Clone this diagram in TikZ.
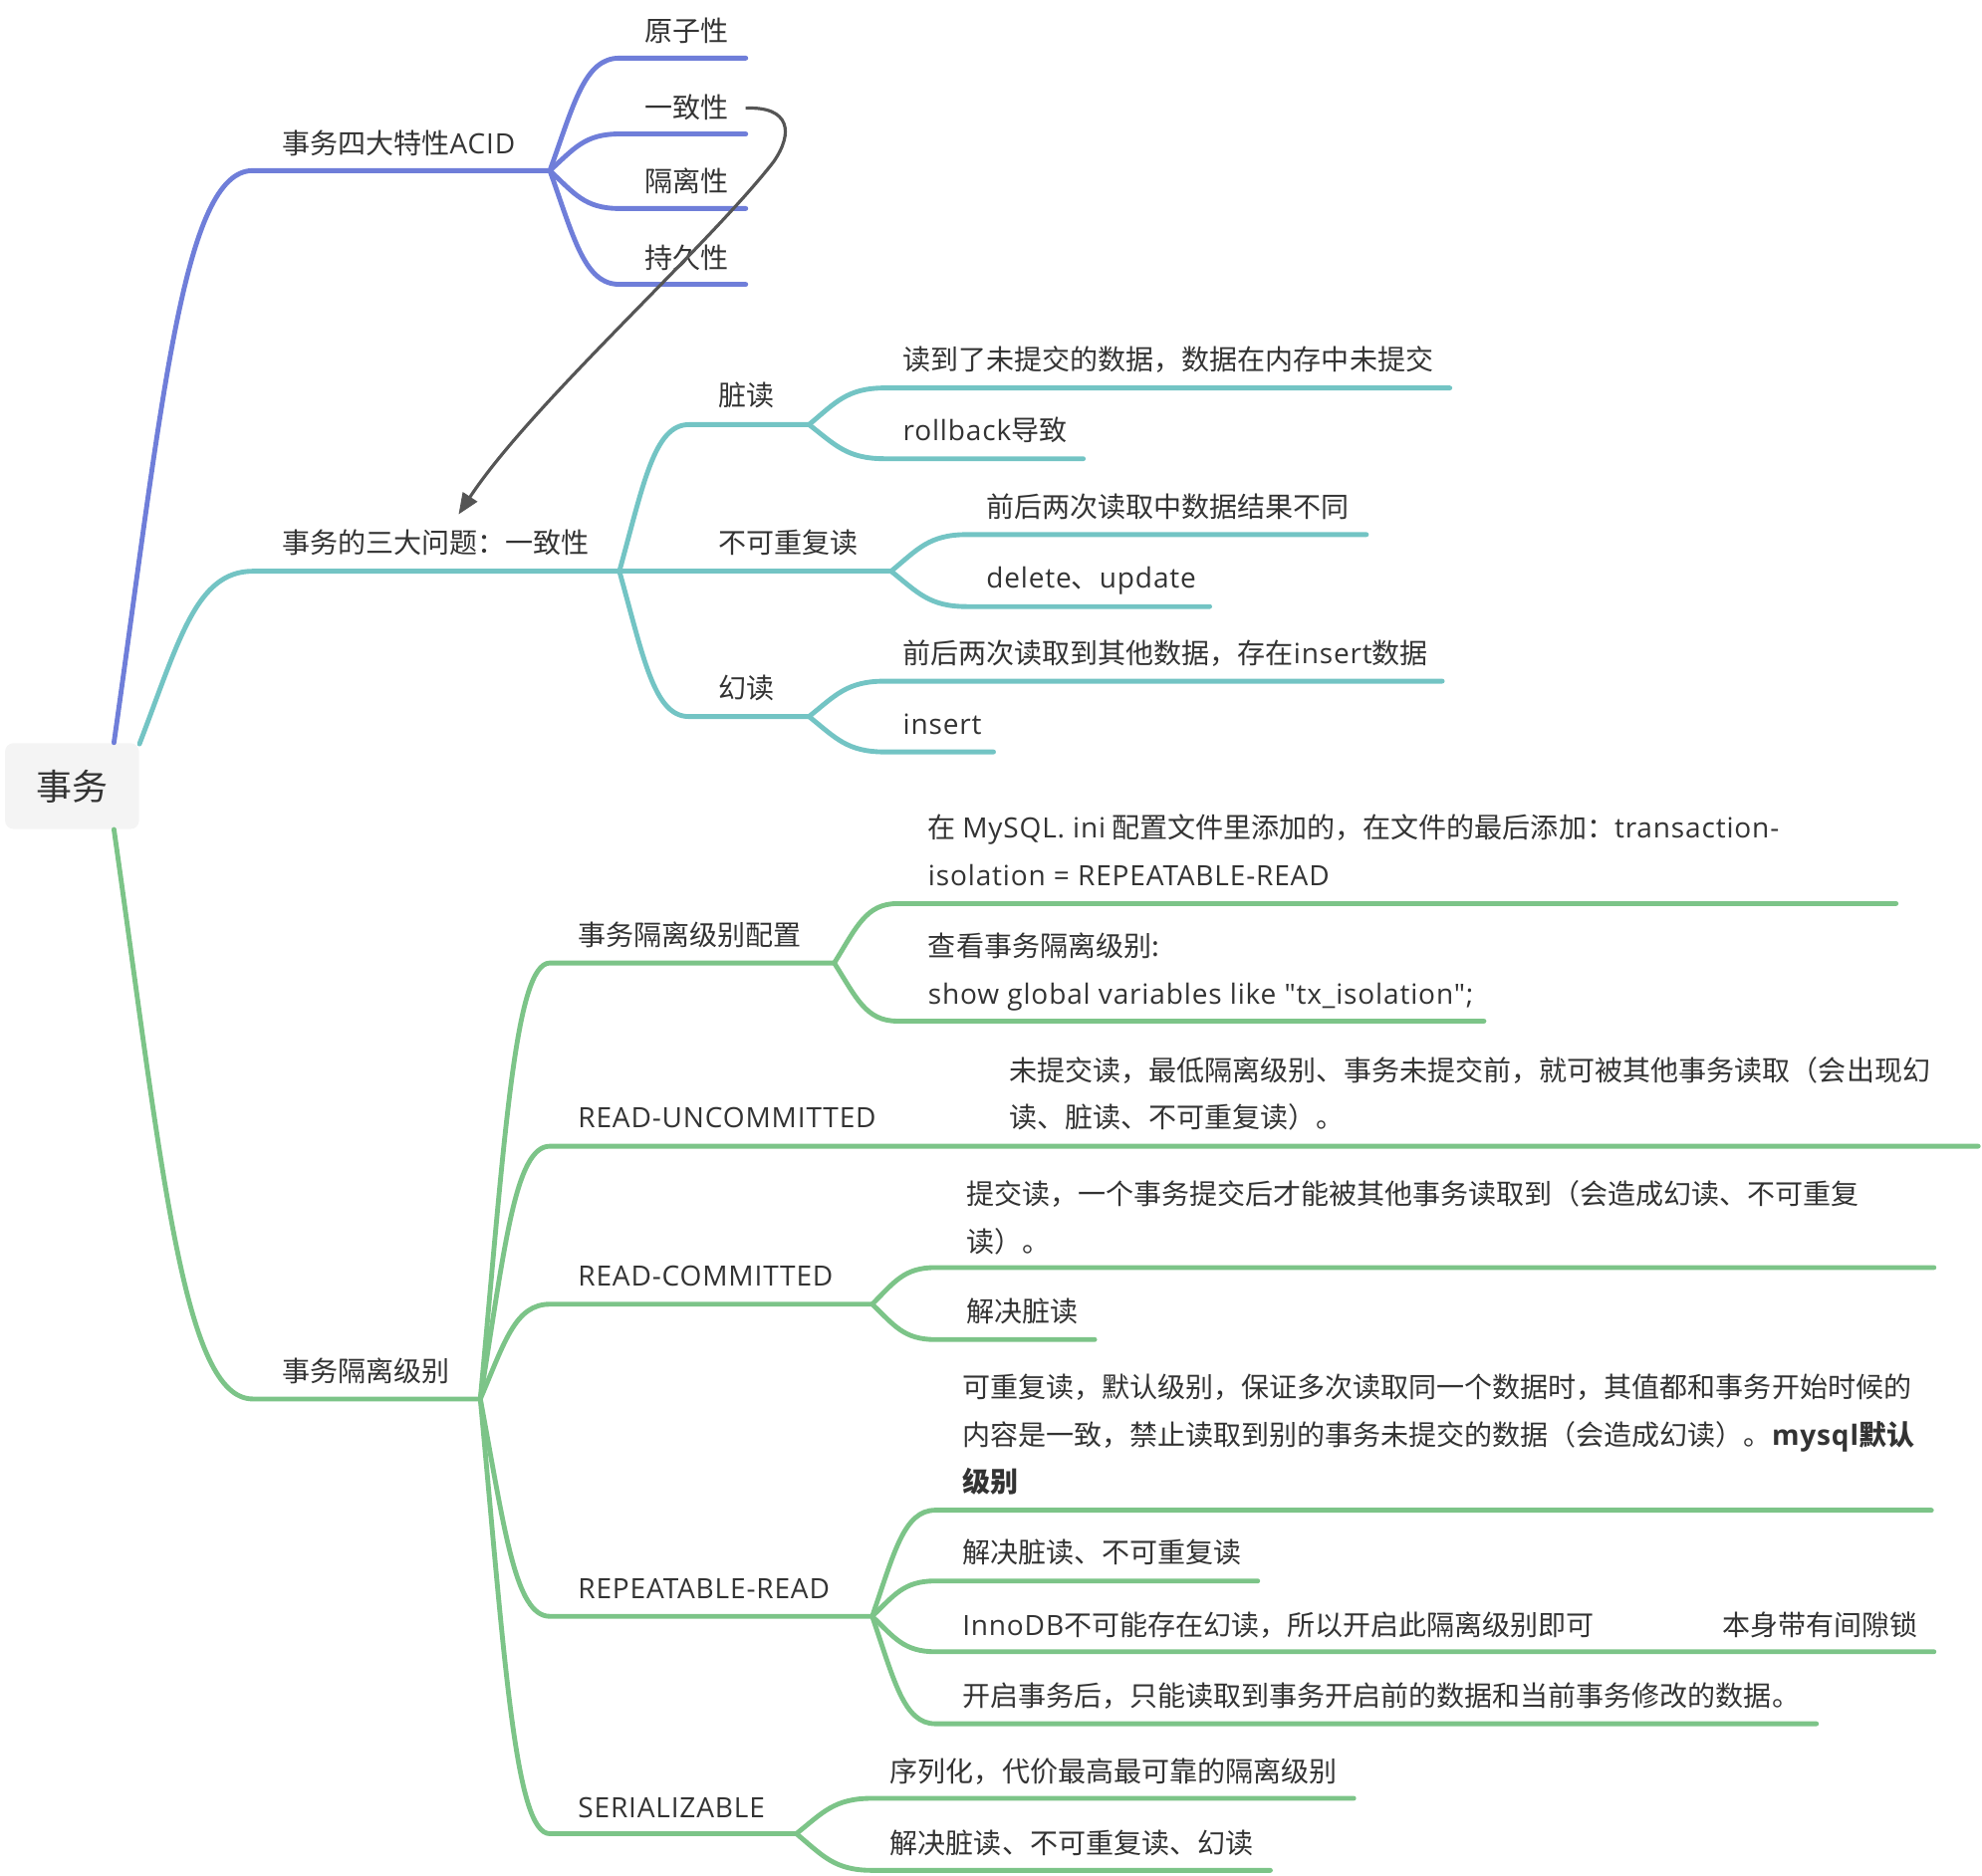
\documentclass[tikz,border=0pt]{standalone}
\usepackage{fontspec}
\setmainfont{Noto Sans CJK SC}
\newfontfamily\latfont[LetterSpace=3]{Open Sans}
\newcommand{\eng}[1]{{\latfont #1}}
\usetikzlibrary{arrows.meta, calc}
\definecolor{acidcolor}{RGB}{111, 126, 217}
\definecolor{probcolor}{RGB}{115, 196, 196}
\definecolor{levelcolor}{RGB}{124, 196, 136}
\definecolor{txtcolor}{RGB}{51, 51, 51}
\definecolor{linkcolor}{RGB}{85, 85, 85}
\definecolor{rootfill}{RGB}{244, 244, 244}

\tikzset{
  ln/.style={line width=2.3pt, line cap=round, line join=round},
  mmcurve/.style={to path={let \p1=(\tikztostart), \p2=(\tikztotarget) in
      .. controls ({\x1+0.35*(\x2-\x1)},{\y1+0.6*(\y2-\y1)}) and ({\x2-0.5*(\x2-\x1)},\y2) .. (\tikztotarget)}},
  lbl/.style={anchor=base west, inner sep=0pt, text=txtcolor, align=left,
      font=\fontsize{13.25}{22.5}\selectfont},
  rootbox/.style={fill=rootfill, rounded corners=4pt, minimum width=63.6pt,
      minimum height=40.8pt, text=txtcolor, font=\fontsize{17}{20}\selectfont}
}

\begin{document}
\begin{tikzpicture}[x=0.6pt, y=-0.6pt]
  \useasboundingbox (0,0) rectangle (1568,1484);
  \node[rootbox] (root) at (57,622) {事务};

  % ACID
  \coordinate (acidL) at (200,135);
  \coordinate (acidF) at (435,135);
  \draw[ln, acidcolor] (root.46) to[mmcurve] (acidL) -- (acidF);
  \node[lbl] (acid) at (223,122) {事务四大特性\eng{ACID}};
  \coordinate (atomL) at (490,46);  \coordinate (atomE) at (590,46);
  \coordinate (consL) at (490,106); \coordinate (consE) at (590,106);
  \coordinate (isolL) at (490,165); \coordinate (isolE) at (590,165);
  \coordinate (duraL) at (490,225); \coordinate (duraE) at (590,225);
  \draw[ln, acidcolor] (acidF) to[mmcurve] (atomL) -- (atomE);
  \draw[ln, acidcolor] (acidF) to[mmcurve] (consL) -- (consE);
  \draw[ln, acidcolor] (acidF) to[mmcurve] (isolL) -- (isolE);
  \draw[ln, acidcolor] (acidF) to[mmcurve] (duraL) -- (duraE);
  \node[lbl] (atom) at (510,33) {原子性};
  \node[lbl] (cons) at (510,93) {一致性};
  \node[lbl] (isol) at (510,152) {隔离性};
  \node[lbl] (dura) at (510,212) {持久性};

  % problems
  \coordinate (probL) at (200,452);
  \coordinate (probF) at (490,452);
  \draw[ln, probcolor] (root.32) to[mmcurve] (probL) -- (probF);
  \node[lbl] (prob) at (223,438) {事务的三大问题：一致性};
  \coordinate (dirtyL) at (545,336); \coordinate (dirtyF) at (640,336);
  \coordinate (nrptF) at (705,452);
  \coordinate (phanL) at (545,567);  \coordinate (phanF) at (640,567);
  \draw[ln, probcolor] (probF) to[mmcurve] (dirtyL) -- (dirtyF);
  \draw[ln, probcolor] (probF) -- (nrptF);
  \draw[ln, probcolor] (probF) to[mmcurve] (phanL) -- (phanF);
  \node[lbl] (dirty) at (568,321) {脏读};
  \node[lbl] (nrpt) at (568,438) {不可重复读};
  \node[lbl] (phan) at (568,553) {幻读};

  \coordinate (dirtyAL) at (700,307); \coordinate (dirtyAE) at (1147,307);
  \coordinate (dirtyBL) at (700,363); \coordinate (dirtyBE) at (857,363);
  \draw[ln, probcolor] (dirtyF) to[mmcurve] (dirtyAL) -- (dirtyAE);
  \draw[ln, probcolor] (dirtyF) to[mmcurve] (dirtyBL) -- (dirtyBE);
  \node[lbl] (dirtyA) at (714,293) {读到了未提交的数据，数据在内存中未提交};
  \node[lbl] (dirtyB) at (714,349) {\eng{rollback}导致};

  \coordinate (nrptAL) at (765,423); \coordinate (nrptAE) at (1081,423);
  \coordinate (nrptBL) at (765,480); \coordinate (nrptBE) at (957,480);
  \draw[ln, probcolor] (nrptF) to[mmcurve] (nrptAL) -- (nrptAE);
  \draw[ln, probcolor] (nrptF) to[mmcurve] (nrptBL) -- (nrptBE);
  \node[lbl] (nrptA) at (780,409) {前后两次读取中数据结果不同};
  \node[lbl] (nrptB) at (780,465) {\eng{delete}、\eng{update}};

  \coordinate (phanAL) at (700,539); \coordinate (phanAE) at (1141,539);
  \coordinate (phanBL) at (700,595); \coordinate (phanBE) at (786,595);
  \draw[ln, probcolor] (phanF) to[mmcurve] (phanAL) -- (phanAE);
  \draw[ln, probcolor] (phanF) to[mmcurve] (phanBL) -- (phanBE);
  \node[lbl] (phanA) at (714,525) {前后两次读取到其他数据，存在\eng{insert}数据};
  \node[lbl] (phanB) at (714,581) {\eng{insert}};

  % isolation levels
  \coordinate (lvlL) at (200,1107);
  \coordinate (lvlF) at (380,1107);
  \draw[ln, levelcolor] (root.-46) to[mmcurve] (lvlL) -- (lvlF);
  \node[lbl] (lvl) at (223,1093) {事务隔离级别};
  \coordinate (cfgL) at (435,762);  \coordinate (cfgF) at (660,762);
  \coordinate (ruL) at (435,907);   \coordinate (ruF) at (760,907); \coordinate (ruE) at (1565,907);
  \coordinate (rcL) at (435,1032);  \coordinate (rcF) at (690,1032);
  \coordinate (rrL) at (435,1279);  \coordinate (rrF) at (690,1279);
  \coordinate (serL) at (435,1451); \coordinate (serF) at (630,1451);
  \draw[ln, levelcolor] (lvlF) to[mmcurve] (cfgL) -- (cfgF);
  \draw[ln, levelcolor] (lvlF) to[mmcurve] (ruL) -- (ruF) -- (ruE);
  \draw[ln, levelcolor] (lvlF) to[mmcurve] (rcL) -- (rcF);
  \draw[ln, levelcolor] (lvlF) to[mmcurve] (rrL) -- (rrF);
  \draw[ln, levelcolor] (lvlF) to[mmcurve] (serL) -- (serF);
  \node[lbl] (cfg) at (457,748) {事务隔离级别配置};
  \node[lbl] (ru) at (457,892) {\eng{READ-UNCOMMITTED}};
  \node[lbl] (rc) at (457,1018) {\eng{READ-COMMITTED}};
  \node[lbl] (rr) at (457,1265) {\eng{REPEATABLE-READ}};
  \node[lbl] (ser) at (457,1438) {\eng{SERIALIZABLE}};

  \coordinate (cfgAL) at (710,715); \coordinate (cfgAE) at (1500,715);
  \coordinate (cfgBL) at (710,808); \coordinate (cfgBE) at (1174,808);
  \draw[ln, levelcolor] (cfgF) to[mmcurve] (cfgAL) -- (cfgAE);
  \draw[ln, levelcolor] (cfgF) to[mmcurve] (cfgBL) -- (cfgBE);
  % base of a multi-line label is its last line
  \node[lbl] (cfgA) at (734,700.5) {在 \eng{MySQL. ini} 配置文件里添加的，在文件的最后添加：\eng{transaction-}\\\eng{isolation = REPEATABLE-READ}};
  \node[lbl] (cfgB) at (734,794.5) {查看事务隔离级别:\\\eng{show global variables like "tx\_isolation";}};

  \node[lbl] (ruA) at (798,892.5) {未提交读，最低隔离级别、事务未提交前，就可被其他事务读取（会出现幻\\读、脏读、不可重复读）。};

  \coordinate (rcAL) at (740,1003); \coordinate (rcAE) at (1530,1003);
  \coordinate (rcBL) at (740,1060); \coordinate (rcBE) at (866,1060);
  \draw[ln, levelcolor] (rcF) to[mmcurve] (rcAL) -- (rcAE);
  \draw[ln, levelcolor] (rcF) to[mmcurve] (rcBL) -- (rcBE);
  \node[lbl] (rcA) at (764,990.5) {提交读，一个事务提交后才能被其他事务读取到（会造成幻读、不可重复\\读）。};
  \node[lbl] (rcB) at (764,1046) {解决脏读};

  \coordinate (rrAL) at (740,1195); \coordinate (rrAE) at (1528,1195);
  \coordinate (rrBL) at (740,1251); \coordinate (rrBE) at (995,1251);
  \coordinate (rrCL) at (740,1307); \coordinate (rrCE) at (1530,1307);
  \coordinate (rrDL) at (740,1364); \coordinate (rrDE) at (1437,1364);
  \draw[ln, levelcolor] (rrF) to[mmcurve] (rrAL) -- (rrAE);
  \draw[ln, levelcolor] (rrF) to[mmcurve] (rrBL) -- (rrBE);
  \draw[ln, levelcolor] (rrF) to[mmcurve] (rrCL) -- (rrCE);
  \draw[ln, levelcolor] (rrF) to[mmcurve] (rrDL) -- (rrDE);
  \node[lbl] (rrA) at (761,1181) {可重复读，默认级别，保证多次读取同一个数据时，其值都和事务开始时候的\\内容是一致，禁止读取到别的事务未提交的数据（会造成幻读）。\textbf{\eng{mysql}默认}\\\textbf{级别}};
  \node[lbl] (rrB) at (761,1237) {解决脏读、不可重复读};
  \node[lbl] (rrC) at (761,1294) {\eng{InnoDB}不可能存在幻读，所以开启此隔离级别即可};
  \node[lbl] (rrCx) at (1362,1294) {本身带有间隙锁};
  \node[lbl] (rrD) at (761,1350) {开启事务后，只能读取到事务开启前的数据和当前事务修改的数据。};

  \coordinate (serAL) at (690,1423); \coordinate (serAE) at (1071,1423);
  \coordinate (serBL) at (690,1480); \coordinate (serBE) at (1005,1480);
  \draw[ln, levelcolor] (serF) to[mmcurve] (serAL) -- (serAE);
  \draw[ln, levelcolor] (serF) to[mmcurve] (serBL) -- (serBE);
  \node[lbl] (serA) at (704,1410) {序列化，代价最高最可靠的隔离级别};
  \node[lbl] (serB) at (704,1467) {解决脏读、不可重复读、幻读};

  % link from consistency to problems
  \coordinate (bend) at (612,128);
  \draw[linkcolor, line width=1.5pt, -{Triangle[length=10pt, width=8pt]}]
    ($(cons.east)+(13,1)$) .. controls (625,84) and (628,105) .. (bend)
    .. controls (560,195) and (420,320) .. ($(prob.north)+(18,-12)$);
\end{tikzpicture}
\end{document}
